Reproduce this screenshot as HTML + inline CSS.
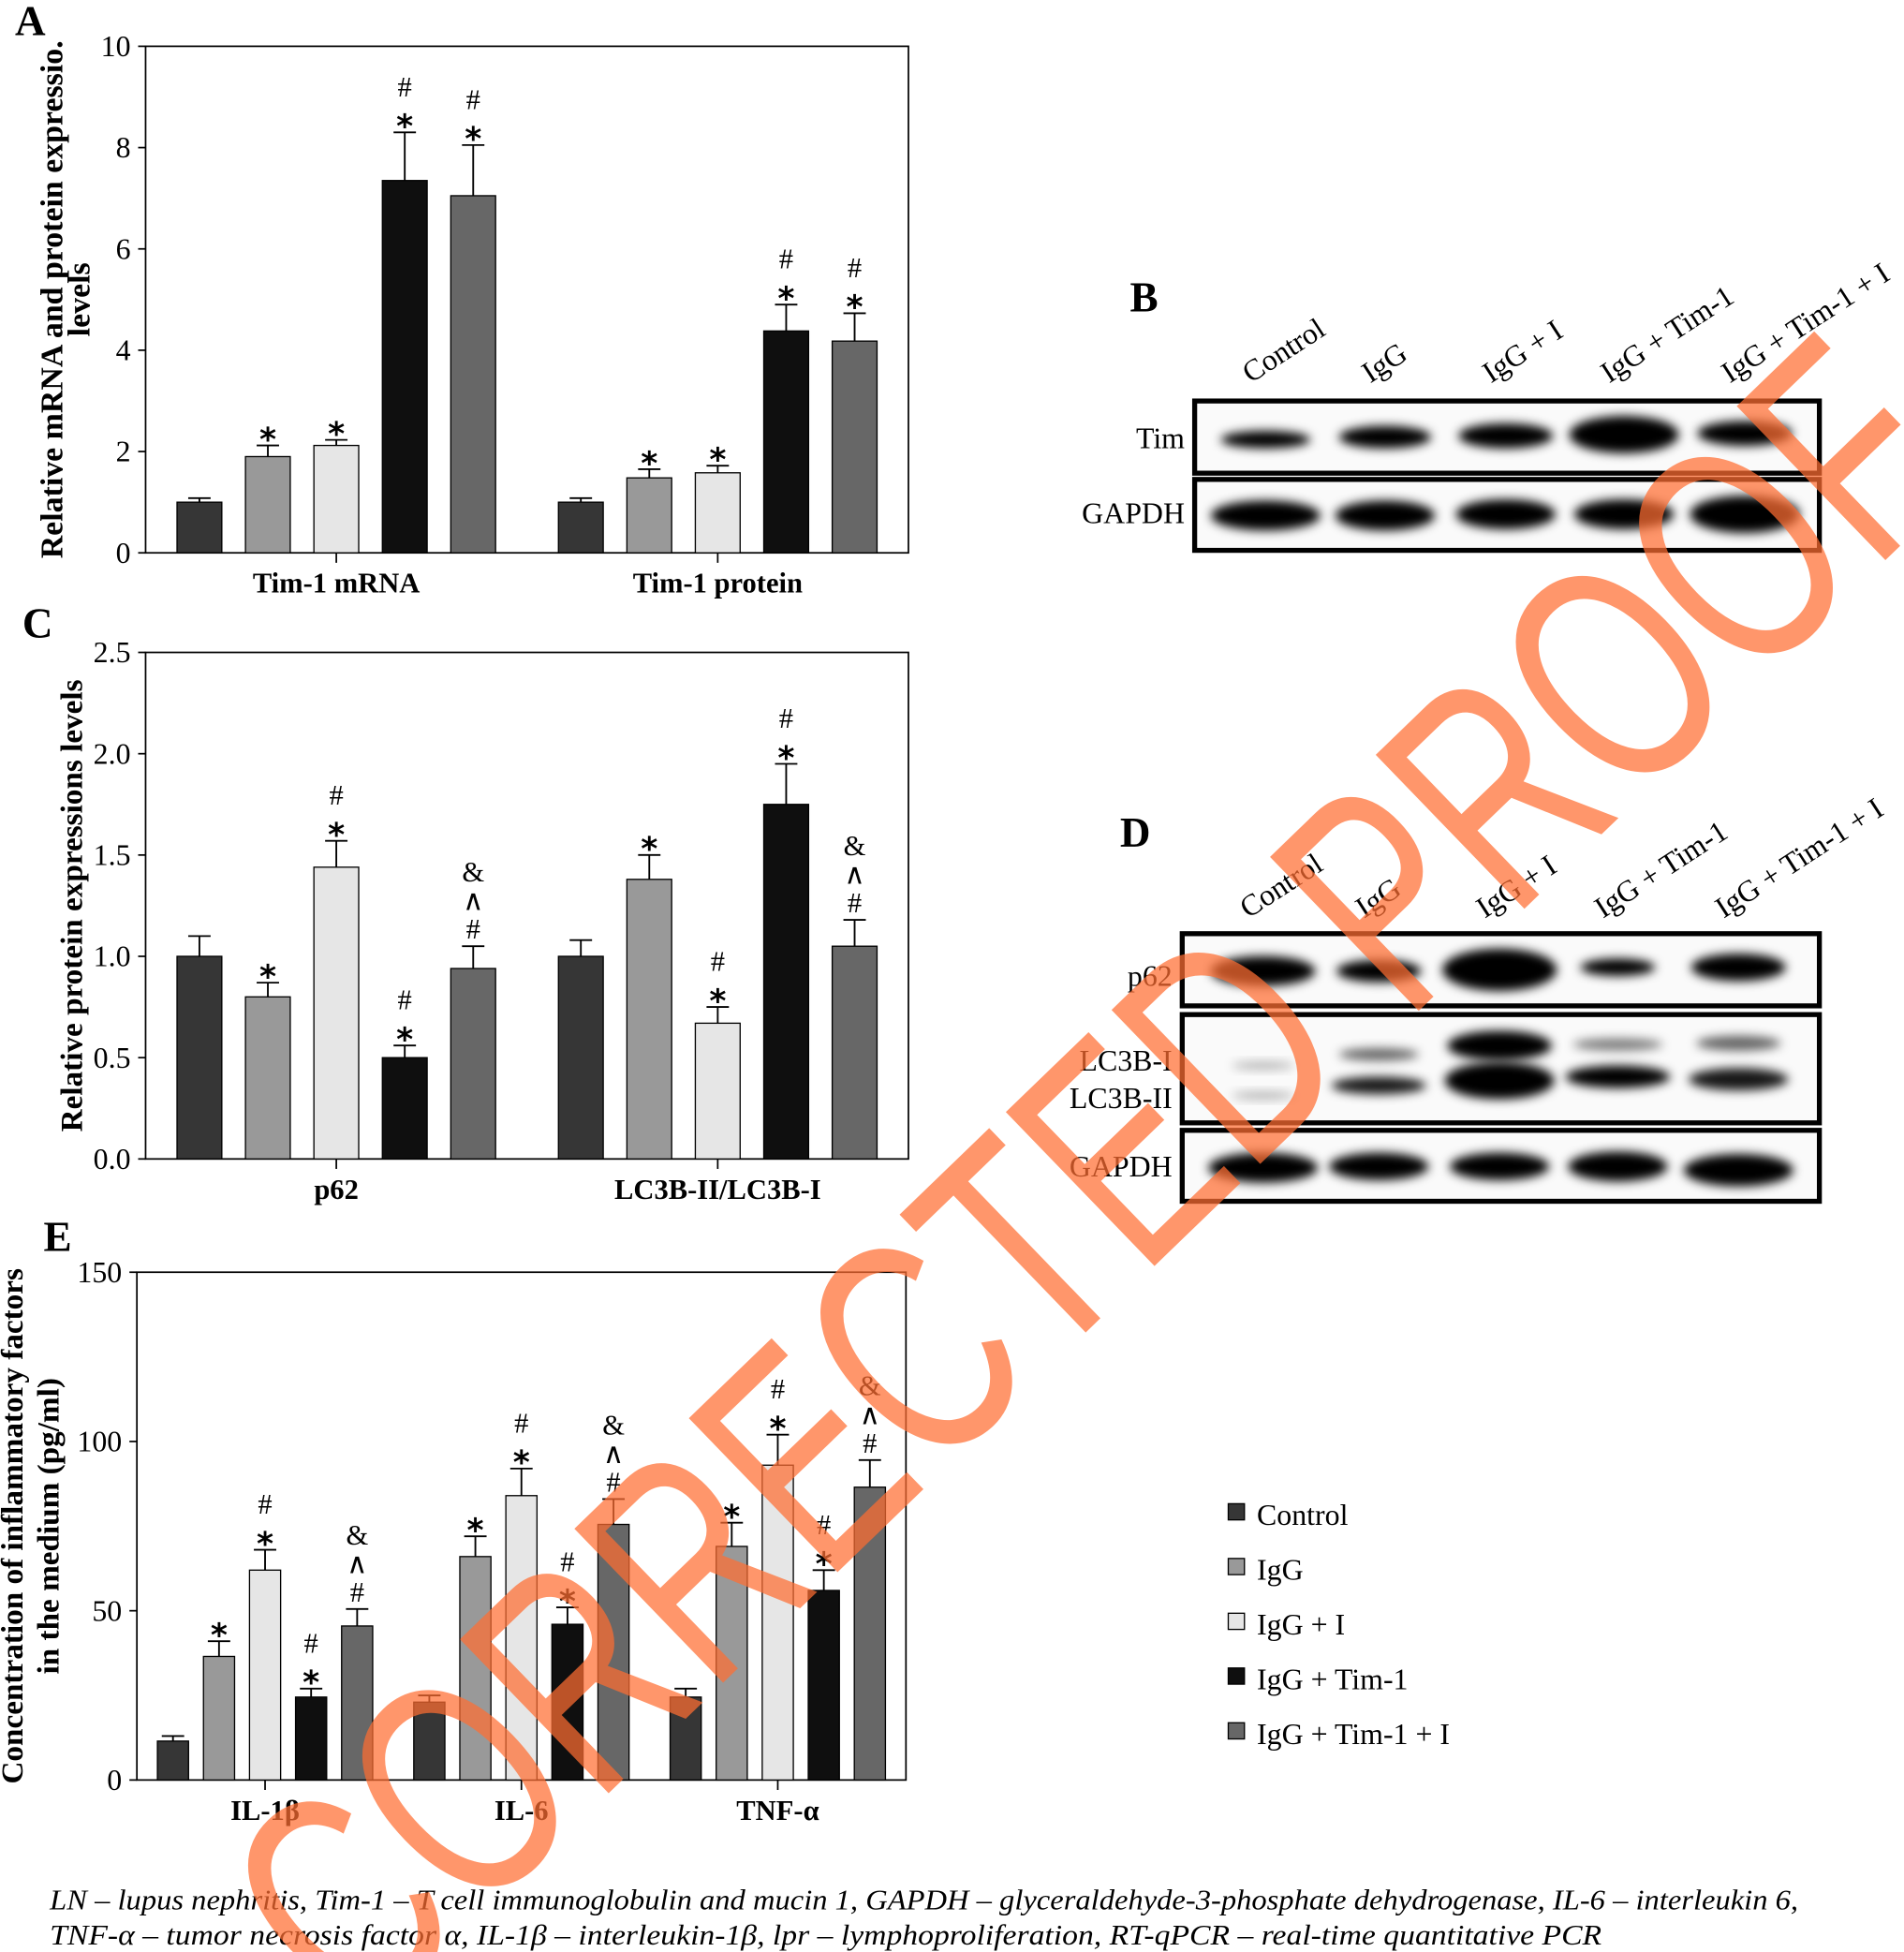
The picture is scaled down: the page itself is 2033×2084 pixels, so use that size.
<!DOCTYPE html>
<html><head><meta charset="utf-8">
<style>
html,body{margin:0;padding:0;background:#fff;overflow:hidden;width:2033px;height:2084px;}
svg{display:block;}
text{font-family:"Liberation Serif",serif;}
</style></head>
<body>
<svg id="fig" width="2033" height="2084" viewBox="0 0 1530 1568" xmlns="http://www.w3.org/2000/svg" style="overflow:hidden">
<defs>
<filter id="blur" x="-30%" y="-80%" width="160%" height="260%"><feGaussianBlur stdDeviation="4"/></filter>
</defs>
<g id="charts"></g>
<g id="blots"></g>
<g id="legend"></g>
<text x="40" y="1534" font-size="23" font-style="italic" textLength="1405" lengthAdjust="spacingAndGlyphs">LN – lupus nephritis, Tim-1 – T cell immunoglobulin and mucin 1, GAPDH – glyceraldehyde-3-phosphate dehydrogenase, IL-6 – interleukin 6,</text>
<text x="40" y="1562" font-size="23" font-style="italic" textLength="1247" lengthAdjust="spacingAndGlyphs">TNF-α – tumor necrosis factor α, IL-1β – interleukin-1β, lpr – lymphoproliferation, RT-qPCR – real-time quantitative PCR</text>
<text x="0" y="0" font-size="250" textLength="1800" lengthAdjust="spacingAndGlyphs" text-anchor="middle" fill="rgb(255,110,50)" fill-opacity="0.72" style="font-family:'Liberation Sans',sans-serif" transform="translate(935,1010) rotate(-44)">CORRECTED PROOF</text>
</svg>
<script>
const NS='http://www.w3.org/2000/svg';
const groupColors=['#363636','#999999','#e6e6e6','#0f0f0f','#676767'];
const seriesNames=['Control','IgG','IgG + I','IgG + Tim-1','IgG + Tim-1 + I'];

// Panel A
const aCategories=['Tim-1 mRNA','Tim-1 protein'];
const aValues=[[1.0,1.9,2.12,7.35,7.05],[1.0,1.48,1.58,4.38,4.18]];
const aErrors=[[1.08,2.12,2.23,8.3,8.05],[1.08,1.65,1.72,4.9,4.73]];
const aMarks=[[[],['*'],['*'],['*','#'],['*','#']],[[],['*'],['*'],['*','#'],['*','#']]];
const aTicks=[0,2,4,6,8,10];
const aTickLabels=['0','2','4','6','8','10'];
// Panel C
const cCategories=['p62','LC3B-II/LC3B-I'];
const cValues=[[1.0,0.8,1.44,0.5,0.94],[1.0,1.38,0.67,1.75,1.05]];
const cErrors=[[1.1,0.87,1.57,0.56,1.05],[1.08,1.5,0.75,1.95,1.18]];
const cMarks=[[[],['*'],['*','#'],['*','#'],['#','^','&']],[[],['*'],['*','#'],['*','#'],['#','^','&']]];
const cTicks=[0,0.5,1,1.5,2,2.5];
const cTickLabels=['0.0','0.5','1.0','1.5','2.0','2.5'];
// Panel E
const eCategories=['IL-1β','IL-6','TNF-α'];
const eValues=[[11.5,36.5,62,24.5,45.5],[23,66,84,46,75.5],[24.5,69,93,56,86.5]];
const eErrors=[[13,41,68,27,50.5],[25,72,92,51,83],[27,76,102,62,94.5]];
const eMarks=[[[],['*'],['*','#'],['*','#'],['#','^','&']],[[],['*'],['*','#'],['*','#'],['#','^','&']],[[],['*'],['*','#'],['*','#'],['#','^','&']]];
const eTicks=[0,50,100,150];
const eTickLabels=['0','50','100','150'];

function mk(tag,attrs,parent,txt){const e=document.createElementNS(NS,tag);for(const k in attrs)e.setAttribute(k,attrs[k]);if(txt!==undefined)e.textContent=txt;parent.appendChild(e);return e;}

function chart(cfg){
  const root=document.getElementById('charts');
  const g=mk('g',{},root);
  
  
  const {x0,x1,y0,y1,max}=cfg;
  const ys=v=>y1-(v/max)*(y1-y0);
  const nC=cfg.cats.length;
  const groupW=(x1-x0)/nC;
  const step=cfg.step, bw=cfg.bw;
  const xc=(ci,si)=>x0+groupW*(ci+0.5)+(si-2)*step;
  const fr=mk('rect',{x:x0,y:y0,width:x1-x0,height:y1-y0,fill:'none',stroke:'#000','stroke-width':1.3},g);
  
  
  cfg.ticks.forEach((t,i)=>{
    const y=ys(t);
    const tl=mk('line',{x1:x0-6,x2:x0,y1:y,y2:y,stroke:'#000','stroke-width':1.3},g);
    
    
    const tx=mk('text',{x:x0-12,y:y+8,'font-size':24,'text-anchor':'end'},g,cfg.tickLabels[i]);
    
    
  });
  cfg.cats.forEach((c,ci)=>{
    const cx=x0+groupW*(ci+0.5);
    const xt=mk('line',{x1:cx,x2:cx,y1:y1,y2:y1+8,stroke:'#000','stroke-width':1.3},g);
    
    
    const lab=mk('text',{x:cx,y:y1+32,'font-size':23,'font-weight':'bold','text-anchor':'middle'},g,c);
    
    
    cfg.vals[ci].forEach((v,si)=>{
      const bx=xc(ci,si);
      const top=ys(v), et=ys(cfg.errs[ci][si]);
      const r=mk('rect',{x:bx-bw/2,y:top,width:bw,height:y1-top,fill:groupColors[si],stroke:'#000','stroke-width':1},g);
      
      
      const el=mk('path',{d:`M${bx},${top}V${et}M${bx-9},${et}H${bx+9}`,stroke:'#000','stroke-width':1.4,fill:'none'},g);
      
      
      cfg.marks[ci][si].forEach((m,mi)=>{
        const yy=et-6-mi*23;
        const isStar=m==='*';
        const t=mk('text',{x:bx,y:(isStar?yy+10:yy),'font-size':isStar?26:23,'text-anchor':'middle','font-weight':isStar?'bold':'normal',style:isStar?"font-family:'DejaVu Sans',sans-serif":""},g,m==='^'?'∧':m);
        
        
      });
    });
  });
  cfg.ytitle.forEach((l,i)=>{
    const t=mk('text',{x:0,y:0,'font-size':cfg.yfs,'font-weight':'bold','text-anchor':'middle',transform:`translate(${cfg.ytx[i]},${(y0+y1)/2}) rotate(-90)`},g,l);
    
    
  });
  const pl=mk('text',{x:cfg.lx,y:cfg.ly,'font-size':34,'font-weight':'bold'},g,cfg.letter);
  
  
}

chart({name:'panel-a-chart',x0:117,x1:730,y0:37,y1:444,max:10,cats:aCategories,vals:aValues,errs:aErrors,marks:aMarks,ticks:aTicks,tickLabels:aTickLabels,step:55,bw:36,yfs:25.5,ytitle:['Relative mRNA and protein expressio.','levels'],ytx:[50,72],letter:'A',lx:12,ly:28});
chart({name:'panel-c-chart',x0:117,x1:730,y0:524,y1:931,max:2.5,cats:cCategories,vals:cValues,errs:cErrors,marks:cMarks,ticks:cTicks,tickLabels:cTickLabels,step:55,bw:36,yfs:25,ytitle:['Relative protein expressions levels'],ytx:[66],letter:'C',lx:18,ly:512});
chart({name:'panel-e-chart',x0:110,x1:728,y0:1022,y1:1430,max:150,cats:eCategories,vals:eValues,errs:eErrors,marks:eMarks,ticks:eTicks,tickLabels:eTickLabels,step:37,bw:25,yfs:25,ytitle:['Concentration of inflammatory factors','in the medium (pg/ml)'],ytx:[18,47],letter:'E',lx:35,ly:1005});

const blotLanes=['Control','IgG','IgG + I','IgG + Tim-1','IgG + Tim-1 + I'];
function blot(cfg){
  const root=document.getElementById('blots');
  const g=mk('g',{},root);
  
  
  const pl=mk('text',{x:cfg.lx,y:cfg.ly,'font-size':34,'font-weight':'bold'},g,cfg.letter);
  
  
  blotLanes.forEach((l,i)=>{
    const t=mk('text',{x:0,y:0,'font-size':24,transform:`translate(${cfg.lanes[i]-12},${cfg.laneY}) rotate(-33)`},g,l);
    
    
  });
  cfg.rows.forEach(r=>{
    const b=mk('rect',{x:cfg.x0,y:r.y,width:cfg.x1-cfg.x0,height:r.h,fill:'#fafafa',stroke:'#000','stroke-width':4},g);
    
    
    r.labels.forEach(lb=>{
      const t=mk('text',{x:cfg.x0-8,y:lb[1],'font-size':24,'text-anchor':'end'},g,lb[0]);
      
      
    });
    r.bands.forEach(bd=>{
      bd.forEach((w,i)=>{
        if(!w[0])return;
        const e=mk('ellipse',{cx:cfg.lanes[i],cy:w[2],rx:w[0],ry:w[1],fill:'#000','fill-opacity':w[3]||1,filter:'url(#blur)'},g);
        
        
      });
    });
  });
}
blot({name:'panel-b-blot',letter:'B',lx:908,ly:250,x0:960,x1:1462,laneY:308,lanes:[1017,1113,1210,1305,1402],
  rows:[{y:322,h:58,labels:[['Tim',360]],bands:[[[36,7,353],[37,9,351],[38,10,350],[44,15,349],[38,10,348]]]},
        {y:385,h:57,labels:[['GAPDH',420]],bands:[[[44,12,414],[40,12,414],[40,12,413],[40,12,413],[44,15,413]]]}]});
blot({name:'panel-d-blot',letter:'D',lx:900,ly:680,x0:950,x1:1462,laneY:738,lanes:[1015,1108,1205,1300,1397],
  rows:[{y:750,h:58,labels:[['p62',792]],bands:[[[42,12,780],[34,9,780],[46,17,779],[30,7,777],[38,11,777]]]},
        {y:815,h:87,labels:[['LC3B-I',860],['LC3B-II',890]],bands:[[[25,3,856,0.3],[32,5,847,0.6],[42,12,840],[36,5,839,0.5],[34,6,838,0.6]],[[25,3,880,0.3],[38,7,872,0.9],[44,15,868],[42,9,865],[40,9,867,0.9]]]},
        {y:908,h:57,labels:[['GAPDH',945]],bands:[[[44,12,938],[40,11,937],[40,11,937],[40,12,937],[44,13,940]]]}]});

const lg=document.getElementById('legend');
seriesNames.forEach((n,i)=>{
  const y=1208+i*44;
  const r=mk('rect',{x:987,y:y,width:13,height:13,fill:groupColors[i],stroke:'#000','stroke-width':1},lg);
  
  
  const t=mk('text',{x:1010,y:y+17,'font-size':24},lg,n);
  
  
});
</script>
</body></html>
